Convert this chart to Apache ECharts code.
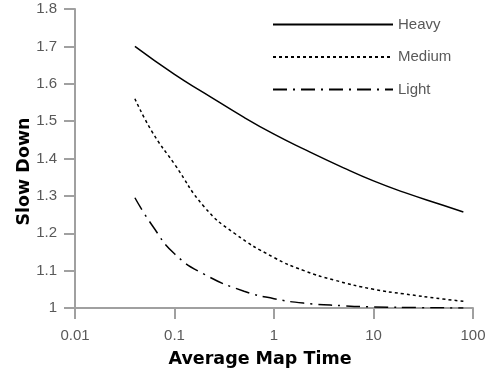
<!DOCTYPE html>
<html>
<head>
<meta charset="utf-8">
<script src="https://cdn.jsdelivr.net/npm/echarts@6/dist/echarts.min.js"></script>
<style>
  html, body { margin: 0; padding: 0; background: #fff; }
  #chart { width: 494px; height: 373px; }
</style>
</head>
<body>
<div id="chart"></div>
<script>
// map time (x) values
const heavyX = [0.04, 0.1, 0.2, 0.5, 1, 2, 5, 10, 20, 50, 80];
const heavyY = [1.70, 1.625, 1.575, 1.51, 1.465, 1.425, 1.375, 1.34, 1.31, 1.275, 1.257];

const mediumX = [0.04, 0.06, 0.1, 0.2, 0.4, 1, 2, 4, 10, 20, 50, 80];
const mediumY = [1.56, 1.47, 1.385, 1.27, 1.2, 1.135, 1.1, 1.075, 1.05, 1.038, 1.024, 1.018];

const lightX = [0.04, 0.06, 0.1, 0.2, 0.5, 1, 2, 5, 10, 30, 80];
const lightY = [1.295, 1.22, 1.145, 1.09, 1.045, 1.025, 1.013, 1.006, 1.003, 1.001, 1.0];

const seriesNames = ['Heavy', 'Medium', 'Light'];

const pairs = (xs, ys) => xs.map((x, i) => [x, ys[i]]);

const chart = echarts.init(document.getElementById('chart'));

const axisGray = '#a0a0a0';
const labelGray = '#595959';
const nameFont = { color: '#000', fontSize: 17.5, fontWeight: 'bold', fontFamily: 'DejaVu Sans' };

const lineSeries = (name, data, type) => ({
  name: name,
  type: 'line',
  data: data,
  smooth: true,
  symbol: 'none',
  itemStyle: { color: '#000' },
  lineStyle: { color: '#000', width: 1.5, type: type }
});

chart.setOption({
  animation: false,
  grid: { left: 75, right: 21, top: 9, bottom: 65 },
  legend: {
    orient: 'vertical',
    left: 267,
    top: 12,
    itemWidth: 120,
    itemHeight: 15,
    itemGap: 17.5,
    itemStyle: { opacity: 0 },
    data: seriesNames,
    textStyle: { color: labelGray, fontSize: 15, fontFamily: 'Liberation Sans' }
  },
  xAxis: {
    type: 'log',
    logBase: 10,
    min: 0.01,
    max: 100,
    name: 'Average Map Time',
    nameLocation: 'middle',
    nameGap: 42,
    nameMoveOverlap: false,
    nameTextStyle: Object.assign({ padding: [0, 28, 0, 0] }, nameFont),
    axisLine: { lineStyle: { color: axisGray, width: 2 } },
    axisTick: { show: true, length: 11, lineStyle: { color: axisGray, width: 2 } },
    minorTick: { show: false },
    splitLine: { show: false },
    axisLabel: { color: labelGray, fontSize: 15, fontFamily: 'Liberation Sans', margin: 20 }
  },
  yAxis: {
    type: 'value',
    min: 1,
    max: 1.8,
    interval: 0.1,
    name: 'Slow Down',
    nameLocation: 'middle',
    nameGap: 42,
    nameMoveOverlap: false,
    nameRotate: 90,
    nameTextStyle: Object.assign({ padding: [0, 26, 0, 0] }, nameFont),
    axisLine: { show: true, lineStyle: { color: axisGray, width: 2 } },
    axisTick: { show: true, length: 11, lineStyle: { color: axisGray, width: 2 } },
    splitLine: { show: false },
    axisLabel: { color: labelGray, fontSize: 15, fontFamily: 'Liberation Sans', margin: 18 }
  },
  series: [
    lineSeries(seriesNames[0], pairs(heavyX, heavyY), 'solid'),
    lineSeries(seriesNames[1], pairs(mediumX, mediumY), [3, 3]),
    lineSeries(seriesNames[2], pairs(lightX, lightY), [14, 6, 2, 6])
  ]
});
</script>
</body>
</html>
